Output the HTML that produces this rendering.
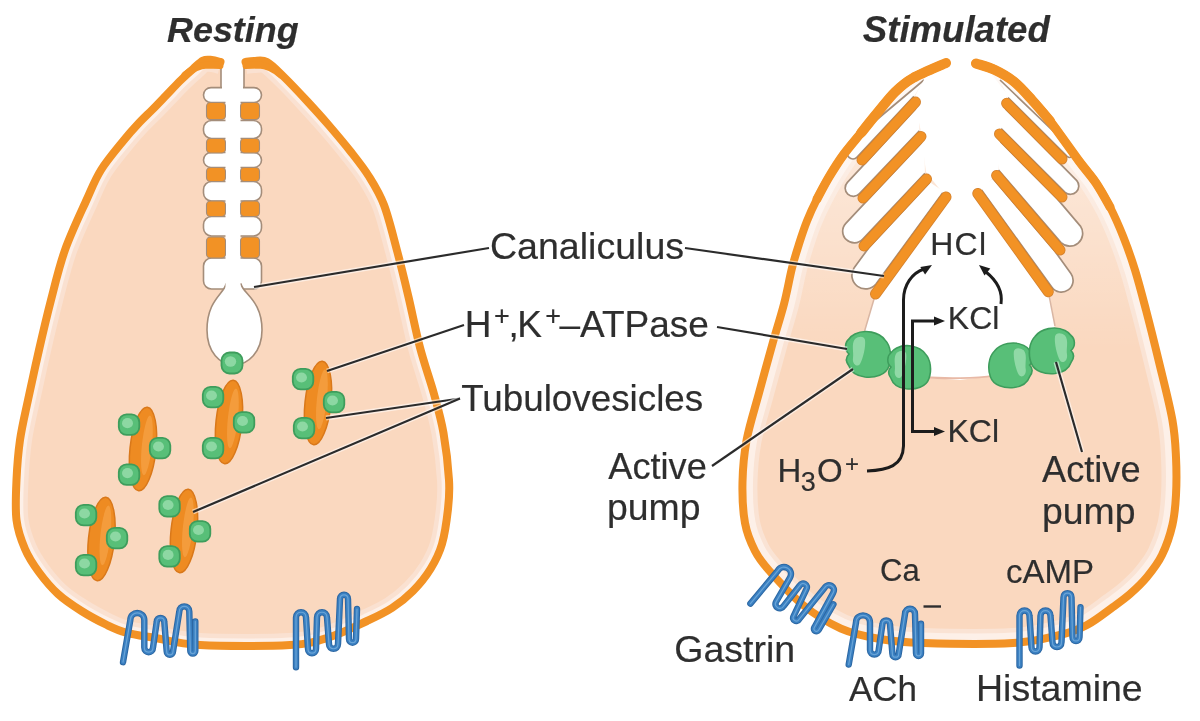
<!DOCTYPE html>
<html><head><meta charset="utf-8"><style>
html,body{margin:0;padding:0;background:#fff;width:1200px;height:721px;overflow:hidden}
svg{display:block;filter:blur(0.7px)}
text{font-family:"Liberation Sans",sans-serif;fill:#2e2e2e;stroke:#333;stroke-width:0.2px}
</style></head><body>
<svg width="1200" height="721" viewBox="0 0 1200 721">
<defs><clipPath id="lc"><path d="M220.5 62.0 C219.1 61.7 214.9 60.2 212.0 60.0 C209.1 59.8 206.2 59.0 203.0 60.5 C199.8 62.0 196.7 65.8 193.0 69.0 C189.3 72.2 185.4 75.7 181.0 80.0 C176.6 84.3 171.3 90.0 166.5 95.0 C161.7 100.0 156.8 105.2 152.0 110.0 C147.2 114.8 142.7 119.0 138.0 124.0 C133.3 129.0 130.2 132.3 124.0 140.0 C117.8 147.7 107.2 160.0 101.0 170.0 C94.8 180.0 92.5 186.7 86.5 200.0 C80.5 213.3 70.9 233.3 65.0 250.0 C59.1 266.7 55.3 283.3 51.0 300.0 C46.7 316.7 42.8 333.3 39.0 350.0 C35.2 366.7 31.2 385.0 28.0 400.0 C24.8 415.0 21.9 426.7 20.0 440.0 C18.1 453.3 17.1 466.7 16.5 480.0 C15.9 493.3 15.1 508.5 16.5 520.0 C17.9 531.5 21.3 540.3 25.0 549.0 C28.7 557.7 33.3 564.5 38.8 572.0 C44.3 579.5 50.9 587.5 58.0 594.0 C65.1 600.5 73.3 605.8 81.5 611.0 C89.7 616.2 99.6 621.4 107.0 625.0 C114.4 628.6 118.0 630.4 126.0 632.6 C134.0 634.8 142.7 635.9 155.0 638.0 C167.3 640.1 177.5 643.8 200.0 645.0 C222.5 646.2 268.3 646.3 290.0 645.0 C311.7 643.7 317.2 641.0 330.0 637.0 C342.8 633.0 356.7 625.8 367.0 621.0 C377.3 616.2 384.3 613.0 392.0 608.0 C399.7 603.0 406.6 597.5 413.0 591.0 C419.4 584.5 425.7 576.8 430.5 569.0 C435.3 561.2 439.1 554.0 442.0 544.0 C444.9 534.0 446.8 519.7 448.0 509.0 C449.2 498.3 449.8 492.7 449.0 480.0 C448.2 467.3 446.0 447.3 443.5 433.0 C441.0 418.7 437.9 408.2 434.0 394.0 C430.1 379.8 424.2 363.8 420.0 347.6 C415.8 331.4 412.3 313.2 408.5 297.0 C404.7 280.8 401.1 265.8 397.0 250.5 C392.9 235.2 388.7 217.3 384.0 205.0 C379.3 192.7 374.5 185.3 369.0 176.5 C363.5 167.7 357.7 160.5 351.0 152.0 C344.3 143.5 336.3 134.0 329.0 125.5 C321.7 117.0 314.5 109.1 307.0 101.0 C299.5 92.9 290.7 83.5 284.0 77.0 C277.3 70.5 272.0 64.7 267.0 62.0 C262.0 59.3 257.6 61.0 254.0 61.0 C250.4 61.0 246.9 61.8 245.5 62.0Z"/></clipPath>
<clipPath id="rc"><path d="M946.0 63.0 C940.5 65.5 921.5 73.2 913.0 78.0 C904.5 82.8 900.8 86.3 895.0 92.0 C889.2 97.7 883.7 105.2 878.0 112.0 C872.3 118.8 866.7 126.0 861.0 133.0 C855.3 140.0 849.3 146.7 844.0 154.0 C838.7 161.3 833.5 169.5 829.0 177.0 C824.5 184.5 820.7 191.7 817.0 199.0 C813.3 206.3 810.0 213.5 807.0 221.0 C804.0 228.5 801.5 236.2 799.0 244.0 C796.5 251.8 794.5 258.0 792.0 268.0 C789.5 278.0 787.2 291.7 784.0 304.0 C780.8 316.3 777.2 327.2 773.0 342.0 C768.8 356.8 763.4 376.7 759.0 393.0 C754.6 409.3 749.4 425.2 746.6 440.0 C743.9 454.8 742.8 468.2 742.5 482.0 C742.2 495.8 742.9 511.5 745.0 523.0 C747.1 534.5 751.0 543.1 755.0 551.0 C759.0 558.9 761.0 561.4 769.0 570.4 C777.0 579.4 791.0 595.3 803.0 605.0 C815.0 614.7 828.2 622.9 841.0 628.6 C853.8 634.3 866.3 636.6 880.0 639.0 C893.7 641.4 900.8 642.3 923.0 643.0 C945.2 643.7 990.2 644.3 1013.0 643.0 C1035.8 641.7 1047.7 638.0 1060.0 635.0 C1072.3 632.0 1078.2 629.7 1087.0 625.0 C1095.8 620.3 1105.8 612.2 1113.0 607.0 C1120.2 601.8 1124.3 599.0 1130.0 594.0 C1135.7 589.0 1141.7 583.5 1147.0 577.0 C1152.3 570.5 1157.8 563.7 1162.0 555.0 C1166.2 546.3 1170.1 535.0 1172.4 525.0 C1174.7 515.0 1175.4 506.3 1176.0 495.0 C1176.6 483.7 1176.6 469.9 1176.0 457.4 C1175.4 444.9 1175.2 435.9 1172.4 420.0 C1169.6 404.1 1163.4 380.3 1159.0 362.0 C1154.6 343.7 1150.0 325.3 1146.0 310.0 C1142.0 294.7 1138.8 282.3 1135.0 270.0 C1131.2 257.7 1127.2 246.5 1123.0 236.0 C1118.8 225.5 1114.5 215.8 1110.0 207.0 C1105.5 198.2 1101.2 190.7 1096.0 183.0 C1090.8 175.3 1086.7 171.3 1079.0 161.0 C1071.3 150.7 1057.8 131.2 1050.0 121.0 C1042.2 110.8 1038.0 106.6 1032.0 100.0 C1026.0 93.4 1020.2 86.6 1014.0 81.6 C1007.8 76.6 1001.3 73.0 995.0 70.0 C988.7 67.0 979.2 64.6 976.0 63.5Z"/></clipPath></defs>
<path d="M220.5 62.0 C219.1 61.7 214.9 60.2 212.0 60.0 C209.1 59.8 206.2 59.0 203.0 60.5 C199.8 62.0 196.7 65.8 193.0 69.0 C189.3 72.2 185.4 75.7 181.0 80.0 C176.6 84.3 171.3 90.0 166.5 95.0 C161.7 100.0 156.8 105.2 152.0 110.0 C147.2 114.8 142.7 119.0 138.0 124.0 C133.3 129.0 130.2 132.3 124.0 140.0 C117.8 147.7 107.2 160.0 101.0 170.0 C94.8 180.0 92.5 186.7 86.5 200.0 C80.5 213.3 70.9 233.3 65.0 250.0 C59.1 266.7 55.3 283.3 51.0 300.0 C46.7 316.7 42.8 333.3 39.0 350.0 C35.2 366.7 31.2 385.0 28.0 400.0 C24.8 415.0 21.9 426.7 20.0 440.0 C18.1 453.3 17.1 466.7 16.5 480.0 C15.9 493.3 15.1 508.5 16.5 520.0 C17.9 531.5 21.3 540.3 25.0 549.0 C28.7 557.7 33.3 564.5 38.8 572.0 C44.3 579.5 50.9 587.5 58.0 594.0 C65.1 600.5 73.3 605.8 81.5 611.0 C89.7 616.2 99.6 621.4 107.0 625.0 C114.4 628.6 118.0 630.4 126.0 632.6 C134.0 634.8 142.7 635.9 155.0 638.0 C167.3 640.1 177.5 643.8 200.0 645.0 C222.5 646.2 268.3 646.3 290.0 645.0 C311.7 643.7 317.2 641.0 330.0 637.0 C342.8 633.0 356.7 625.8 367.0 621.0 C377.3 616.2 384.3 613.0 392.0 608.0 C399.7 603.0 406.6 597.5 413.0 591.0 C419.4 584.5 425.7 576.8 430.5 569.0 C435.3 561.2 439.1 554.0 442.0 544.0 C444.9 534.0 446.8 519.7 448.0 509.0 C449.2 498.3 449.8 492.7 449.0 480.0 C448.2 467.3 446.0 447.3 443.5 433.0 C441.0 418.7 437.9 408.2 434.0 394.0 C430.1 379.8 424.2 363.8 420.0 347.6 C415.8 331.4 412.3 313.2 408.5 297.0 C404.7 280.8 401.1 265.8 397.0 250.5 C392.9 235.2 388.7 217.3 384.0 205.0 C379.3 192.7 374.5 185.3 369.0 176.5 C363.5 167.7 357.7 160.5 351.0 152.0 C344.3 143.5 336.3 134.0 329.0 125.5 C321.7 117.0 314.5 109.1 307.0 101.0 C299.5 92.9 290.7 83.5 284.0 77.0 C277.3 70.5 272.0 64.7 267.0 62.0 C262.0 59.3 257.6 61.0 254.0 61.0 C250.4 61.0 246.9 61.8 245.5 62.0Z" fill="#fad8bf"/>
<path d="M220.5 62.0 C219.1 61.7 214.9 60.2 212.0 60.0 C209.1 59.8 206.2 59.0 203.0 60.5 C199.8 62.0 196.7 65.8 193.0 69.0 C189.3 72.2 185.4 75.7 181.0 80.0 C176.6 84.3 171.3 90.0 166.5 95.0 C161.7 100.0 156.8 105.2 152.0 110.0 C147.2 114.8 142.7 119.0 138.0 124.0 C133.3 129.0 130.2 132.3 124.0 140.0 C117.8 147.7 107.2 160.0 101.0 170.0 C94.8 180.0 92.5 186.7 86.5 200.0 C80.5 213.3 70.9 233.3 65.0 250.0 C59.1 266.7 55.3 283.3 51.0 300.0 C46.7 316.7 42.8 333.3 39.0 350.0 C35.2 366.7 31.2 385.0 28.0 400.0 C24.8 415.0 21.9 426.7 20.0 440.0 C18.1 453.3 17.1 466.7 16.5 480.0 C15.9 493.3 15.1 508.5 16.5 520.0 C17.9 531.5 21.3 540.3 25.0 549.0 C28.7 557.7 33.3 564.5 38.8 572.0 C44.3 579.5 50.9 587.5 58.0 594.0 C65.1 600.5 73.3 605.8 81.5 611.0 C89.7 616.2 99.6 621.4 107.0 625.0 C114.4 628.6 118.0 630.4 126.0 632.6 C134.0 634.8 142.7 635.9 155.0 638.0 C167.3 640.1 177.5 643.8 200.0 645.0 C222.5 646.2 268.3 646.3 290.0 645.0 C311.7 643.7 317.2 641.0 330.0 637.0 C342.8 633.0 356.7 625.8 367.0 621.0 C377.3 616.2 384.3 613.0 392.0 608.0 C399.7 603.0 406.6 597.5 413.0 591.0 C419.4 584.5 425.7 576.8 430.5 569.0 C435.3 561.2 439.1 554.0 442.0 544.0 C444.9 534.0 446.8 519.7 448.0 509.0 C449.2 498.3 449.8 492.7 449.0 480.0 C448.2 467.3 446.0 447.3 443.5 433.0 C441.0 418.7 437.9 408.2 434.0 394.0 C430.1 379.8 424.2 363.8 420.0 347.6 C415.8 331.4 412.3 313.2 408.5 297.0 C404.7 280.8 401.1 265.8 397.0 250.5 C392.9 235.2 388.7 217.3 384.0 205.0 C379.3 192.7 374.5 185.3 369.0 176.5 C363.5 167.7 357.7 160.5 351.0 152.0 C344.3 143.5 336.3 134.0 329.0 125.5 C321.7 117.0 314.5 109.1 307.0 101.0 C299.5 92.9 290.7 83.5 284.0 77.0 C277.3 70.5 272.0 64.7 267.0 62.0 C262.0 59.3 257.6 61.0 254.0 61.0 C250.4 61.0 246.9 61.8 245.5 62.0" fill="none" stroke="#fae1d1" stroke-width="24" clip-path="url(#lc)"/>
<path d="M220.5 62.0 C219.1 61.7 214.9 60.2 212.0 60.0 C209.1 59.8 206.2 59.0 203.0 60.5 C199.8 62.0 196.7 65.8 193.0 69.0 C189.3 72.2 185.4 75.7 181.0 80.0 C176.6 84.3 171.3 90.0 166.5 95.0 C161.7 100.0 156.8 105.2 152.0 110.0 C147.2 114.8 142.7 119.0 138.0 124.0 C133.3 129.0 130.2 132.3 124.0 140.0 C117.8 147.7 107.2 160.0 101.0 170.0 C94.8 180.0 92.5 186.7 86.5 200.0 C80.5 213.3 70.9 233.3 65.0 250.0 C59.1 266.7 55.3 283.3 51.0 300.0 C46.7 316.7 42.8 333.3 39.0 350.0 C35.2 366.7 31.2 385.0 28.0 400.0 C24.8 415.0 21.9 426.7 20.0 440.0 C18.1 453.3 17.1 466.7 16.5 480.0 C15.9 493.3 15.1 508.5 16.5 520.0 C17.9 531.5 21.3 540.3 25.0 549.0 C28.7 557.7 33.3 564.5 38.8 572.0 C44.3 579.5 50.9 587.5 58.0 594.0 C65.1 600.5 73.3 605.8 81.5 611.0 C89.7 616.2 99.6 621.4 107.0 625.0 C114.4 628.6 118.0 630.4 126.0 632.6 C134.0 634.8 142.7 635.9 155.0 638.0 C167.3 640.1 177.5 643.8 200.0 645.0 C222.5 646.2 268.3 646.3 290.0 645.0 C311.7 643.7 317.2 641.0 330.0 637.0 C342.8 633.0 356.7 625.8 367.0 621.0 C377.3 616.2 384.3 613.0 392.0 608.0 C399.7 603.0 406.6 597.5 413.0 591.0 C419.4 584.5 425.7 576.8 430.5 569.0 C435.3 561.2 439.1 554.0 442.0 544.0 C444.9 534.0 446.8 519.7 448.0 509.0 C449.2 498.3 449.8 492.7 449.0 480.0 C448.2 467.3 446.0 447.3 443.5 433.0 C441.0 418.7 437.9 408.2 434.0 394.0 C430.1 379.8 424.2 363.8 420.0 347.6 C415.8 331.4 412.3 313.2 408.5 297.0 C404.7 280.8 401.1 265.8 397.0 250.5 C392.9 235.2 388.7 217.3 384.0 205.0 C379.3 192.7 374.5 185.3 369.0 176.5 C363.5 167.7 357.7 160.5 351.0 152.0 C344.3 143.5 336.3 134.0 329.0 125.5 C321.7 117.0 314.5 109.1 307.0 101.0 C299.5 92.9 290.7 83.5 284.0 77.0 C277.3 70.5 272.0 64.7 267.0 62.0 C262.0 59.3 257.6 61.0 254.0 61.0 C250.4 61.0 246.9 61.8 245.5 62.0" fill="none" stroke="#fdf0e8" stroke-width="15" clip-path="url(#lc)"/>
<rect x="221" y="60" width="23" height="34" fill="#fff" stroke="#a48d7a" stroke-width="1.6"/>
<rect x="203.5" y="87.6" width="58" height="14.9" rx="7.5" fill="#fff" stroke="#a48d7a" stroke-width="1.6"/>
<rect x="203.5" y="120.5" width="58" height="18.0" rx="8.0" fill="#fff" stroke="#a48d7a" stroke-width="1.6"/>
<rect x="203.5" y="152.5" width="58" height="15.0" rx="7.5" fill="#fff" stroke="#a48d7a" stroke-width="1.6"/>
<rect x="203.5" y="181.5" width="58" height="19.5" rx="8.0" fill="#fff" stroke="#a48d7a" stroke-width="1.6"/>
<rect x="203.5" y="216.5" width="58" height="19.5" rx="8.0" fill="#fff" stroke="#a48d7a" stroke-width="1.6"/>
<rect x="203.5" y="258.0" width="58" height="31.0" rx="8.0" fill="#fff" stroke="#a48d7a" stroke-width="1.6"/>
<path d="M226 284 C224 294 207 300 207 330 C207 352 220 365 234 365 C248 365 262 352 262 330 C262 300 243 294 241 284 Z" fill="#fff" stroke="#a48d7a" stroke-width="1.6"/>
<rect x="222" y="50" width="21" height="48" fill="#fff"/>
<rect x="225.5" y="95" width="15" height="215" fill="#fff"/>
<rect x="206.5" y="102.5" width="19" height="17.0" rx="4" fill="#f29225" stroke="#a48d7a" stroke-width="1.1"/>
<rect x="240.5" y="102.5" width="19" height="17.0" rx="4" fill="#f29225" stroke="#a48d7a" stroke-width="1.1"/>
<rect x="206.5" y="138.5" width="19" height="14.5" rx="4" fill="#f29225" stroke="#a48d7a" stroke-width="1.1"/>
<rect x="240.5" y="138.5" width="19" height="14.5" rx="4" fill="#f29225" stroke="#a48d7a" stroke-width="1.1"/>
<rect x="206.5" y="167.5" width="19" height="14.0" rx="4" fill="#f29225" stroke="#a48d7a" stroke-width="1.1"/>
<rect x="240.5" y="167.5" width="19" height="14.0" rx="4" fill="#f29225" stroke="#a48d7a" stroke-width="1.1"/>
<rect x="206.5" y="201.0" width="19" height="15.5" rx="4" fill="#f29225" stroke="#a48d7a" stroke-width="1.1"/>
<rect x="240.5" y="201.0" width="19" height="15.5" rx="4" fill="#f29225" stroke="#a48d7a" stroke-width="1.1"/>
<rect x="206.5" y="237.0" width="19" height="21.0" rx="4" fill="#f29225" stroke="#a48d7a" stroke-width="1.1"/>
<rect x="240.5" y="237.0" width="19" height="21.0" rx="4" fill="#f29225" stroke="#a48d7a" stroke-width="1.1"/>
<rect x="226.2" y="95" width="13.6" height="210" fill="#fff"/>
<path d="M220.5 62.0 C219.1 61.7 214.9 60.2 212.0 60.0 C209.1 59.8 206.2 59.0 203.0 60.5 C199.8 62.0 196.7 65.8 193.0 69.0 C189.3 72.2 185.4 75.7 181.0 80.0 C176.6 84.3 171.3 90.0 166.5 95.0 C161.7 100.0 156.8 105.2 152.0 110.0 C147.2 114.8 142.7 119.0 138.0 124.0 C133.3 129.0 130.2 132.3 124.0 140.0 C117.8 147.7 107.2 160.0 101.0 170.0 C94.8 180.0 92.5 186.7 86.5 200.0 C80.5 213.3 70.9 233.3 65.0 250.0 C59.1 266.7 55.3 283.3 51.0 300.0 C46.7 316.7 42.8 333.3 39.0 350.0 C35.2 366.7 31.2 385.0 28.0 400.0 C24.8 415.0 21.9 426.7 20.0 440.0 C18.1 453.3 17.1 466.7 16.5 480.0 C15.9 493.3 15.1 508.5 16.5 520.0 C17.9 531.5 21.3 540.3 25.0 549.0 C28.7 557.7 33.3 564.5 38.8 572.0 C44.3 579.5 50.9 587.5 58.0 594.0 C65.1 600.5 73.3 605.8 81.5 611.0 C89.7 616.2 99.6 621.4 107.0 625.0 C114.4 628.6 118.0 630.4 126.0 632.6 C134.0 634.8 142.7 635.9 155.0 638.0 C167.3 640.1 177.5 643.8 200.0 645.0 C222.5 646.2 268.3 646.3 290.0 645.0 C311.7 643.7 317.2 641.0 330.0 637.0 C342.8 633.0 356.7 625.8 367.0 621.0 C377.3 616.2 384.3 613.0 392.0 608.0 C399.7 603.0 406.6 597.5 413.0 591.0 C419.4 584.5 425.7 576.8 430.5 569.0 C435.3 561.2 439.1 554.0 442.0 544.0 C444.9 534.0 446.8 519.7 448.0 509.0 C449.2 498.3 449.8 492.7 449.0 480.0 C448.2 467.3 446.0 447.3 443.5 433.0 C441.0 418.7 437.9 408.2 434.0 394.0 C430.1 379.8 424.2 363.8 420.0 347.6 C415.8 331.4 412.3 313.2 408.5 297.0 C404.7 280.8 401.1 265.8 397.0 250.5 C392.9 235.2 388.7 217.3 384.0 205.0 C379.3 192.7 374.5 185.3 369.0 176.5 C363.5 167.7 357.7 160.5 351.0 152.0 C344.3 143.5 336.3 134.0 329.0 125.5 C321.7 117.0 314.5 109.1 307.0 101.0 C299.5 92.9 290.7 83.5 284.0 77.0 C277.3 70.5 272.0 64.7 267.0 62.0 C262.0 59.3 257.6 61.0 254.0 61.0 C250.4 61.0 246.9 61.8 245.5 62.0" fill="none" stroke="#f29225" stroke-width="8" stroke-linecap="round"/>
<path d="M220 65.5 L207 65 Q196 65.5 185 75" fill="none" stroke="#f29225" stroke-width="7" stroke-linecap="round"/>
<path d="M246 65.5 L259 65 Q270 65.5 281 75" fill="none" stroke="#f29225" stroke-width="7" stroke-linecap="round"/>
<g transform="translate(229.0 422.0) rotate(6.0)"><ellipse cx="0" cy="0" rx="13" ry="42" fill="#ee8b22" stroke="#d9781a" stroke-width="1.5"/><ellipse cx="3.5" cy="-4" rx="5" ry="30" fill="#f5a145" opacity="0.75"/></g>
<rect x="202.8" y="386.8" width="20.5" height="20.5" rx="7.8" fill="#58bf78" stroke="#3e9d5c" stroke-width="1.8"/><ellipse cx="211.5" cy="395.5" rx="5.5" ry="5.1" fill="#9fe0b2" opacity="0.75"/>
<rect x="233.8" y="412.2" width="20.5" height="20.5" rx="7.8" fill="#58bf78" stroke="#3e9d5c" stroke-width="1.8"/><ellipse cx="242.5" cy="421.0" rx="5.5" ry="5.1" fill="#9fe0b2" opacity="0.75"/>
<rect x="202.8" y="437.8" width="20.5" height="20.5" rx="7.8" fill="#58bf78" stroke="#3e9d5c" stroke-width="1.8"/><ellipse cx="211.5" cy="446.5" rx="5.5" ry="5.1" fill="#9fe0b2" opacity="0.75"/>
<g transform="translate(318.0 403.0) rotate(6.0)"><ellipse cx="0" cy="0" rx="13" ry="42" fill="#ee8b22" stroke="#d9781a" stroke-width="1.5"/><ellipse cx="3.5" cy="-4" rx="5" ry="30" fill="#f5a145" opacity="0.75"/></g>
<rect x="292.8" y="368.8" width="20.5" height="20.5" rx="7.8" fill="#58bf78" stroke="#3e9d5c" stroke-width="1.8"/><ellipse cx="301.5" cy="377.5" rx="5.5" ry="5.1" fill="#9fe0b2" opacity="0.75"/>
<rect x="323.8" y="391.8" width="20.5" height="20.5" rx="7.8" fill="#58bf78" stroke="#3e9d5c" stroke-width="1.8"/><ellipse cx="332.5" cy="400.5" rx="5.5" ry="5.1" fill="#9fe0b2" opacity="0.75"/>
<rect x="293.8" y="417.8" width="20.5" height="20.5" rx="7.8" fill="#58bf78" stroke="#3e9d5c" stroke-width="1.8"/><ellipse cx="302.5" cy="426.5" rx="5.5" ry="5.1" fill="#9fe0b2" opacity="0.75"/>
<g transform="translate(143.0 449.0) rotate(6.0)"><ellipse cx="0" cy="0" rx="13" ry="42" fill="#ee8b22" stroke="#d9781a" stroke-width="1.5"/><ellipse cx="3.5" cy="-4" rx="5" ry="30" fill="#f5a145" opacity="0.75"/></g>
<rect x="118.8" y="414.4" width="20.5" height="20.5" rx="7.8" fill="#58bf78" stroke="#3e9d5c" stroke-width="1.8"/><ellipse cx="127.5" cy="423.2" rx="5.5" ry="5.1" fill="#9fe0b2" opacity="0.75"/>
<rect x="149.8" y="437.8" width="20.5" height="20.5" rx="7.8" fill="#58bf78" stroke="#3e9d5c" stroke-width="1.8"/><ellipse cx="158.5" cy="446.5" rx="5.5" ry="5.1" fill="#9fe0b2" opacity="0.75"/>
<rect x="118.8" y="464.4" width="20.5" height="20.5" rx="7.8" fill="#58bf78" stroke="#3e9d5c" stroke-width="1.8"/><ellipse cx="127.5" cy="473.1" rx="5.5" ry="5.1" fill="#9fe0b2" opacity="0.75"/>
<g transform="translate(101.5 539.0) rotate(6.0)"><ellipse cx="0" cy="0" rx="13" ry="42" fill="#ee8b22" stroke="#d9781a" stroke-width="1.5"/><ellipse cx="3.5" cy="-4" rx="5" ry="30" fill="#f5a145" opacity="0.75"/></g>
<rect x="75.8" y="504.8" width="20.5" height="20.5" rx="7.8" fill="#58bf78" stroke="#3e9d5c" stroke-width="1.8"/><ellipse cx="84.5" cy="513.5" rx="5.5" ry="5.1" fill="#9fe0b2" opacity="0.75"/>
<rect x="106.8" y="527.8" width="20.5" height="20.5" rx="7.8" fill="#58bf78" stroke="#3e9d5c" stroke-width="1.8"/><ellipse cx="115.5" cy="536.5" rx="5.5" ry="5.1" fill="#9fe0b2" opacity="0.75"/>
<rect x="75.8" y="554.8" width="20.5" height="20.5" rx="7.8" fill="#58bf78" stroke="#3e9d5c" stroke-width="1.8"/><ellipse cx="84.5" cy="563.5" rx="5.5" ry="5.1" fill="#9fe0b2" opacity="0.75"/>
<g transform="translate(184.0 531.0) rotate(6.0)"><ellipse cx="0" cy="0" rx="13" ry="42" fill="#ee8b22" stroke="#d9781a" stroke-width="1.5"/><ellipse cx="3.5" cy="-4" rx="5" ry="30" fill="#f5a145" opacity="0.75"/></g>
<rect x="159.3" y="496.2" width="20.5" height="20.5" rx="7.8" fill="#58bf78" stroke="#3e9d5c" stroke-width="1.8"/><ellipse cx="168.1" cy="505.0" rx="5.5" ry="5.1" fill="#9fe0b2" opacity="0.75"/>
<rect x="189.8" y="521.2" width="20.5" height="20.5" rx="7.8" fill="#58bf78" stroke="#3e9d5c" stroke-width="1.8"/><ellipse cx="198.5" cy="530.0" rx="5.5" ry="5.1" fill="#9fe0b2" opacity="0.75"/>
<rect x="159.3" y="546.1" width="20.5" height="20.5" rx="7.8" fill="#58bf78" stroke="#3e9d5c" stroke-width="1.8"/><ellipse cx="168.1" cy="554.9" rx="5.5" ry="5.1" fill="#9fe0b2" opacity="0.75"/>
<rect x="221.5" y="352.5" width="21.0" height="21.0" rx="8.0" fill="#58bf78" stroke="#3e9d5c" stroke-width="1.8"/><ellipse cx="230.5" cy="361.5" rx="5.7" ry="5.2" fill="#9fe0b2" opacity="0.75"/>
<path d="M946.0 63.0 C940.5 65.5 921.5 73.2 913.0 78.0 C904.5 82.8 900.8 86.3 895.0 92.0 C889.2 97.7 883.7 105.2 878.0 112.0 C872.3 118.8 866.7 126.0 861.0 133.0 C855.3 140.0 849.3 146.7 844.0 154.0 C838.7 161.3 833.5 169.5 829.0 177.0 C824.5 184.5 820.7 191.7 817.0 199.0 C813.3 206.3 810.0 213.5 807.0 221.0 C804.0 228.5 801.5 236.2 799.0 244.0 C796.5 251.8 794.5 258.0 792.0 268.0 C789.5 278.0 787.2 291.7 784.0 304.0 C780.8 316.3 777.2 327.2 773.0 342.0 C768.8 356.8 763.4 376.7 759.0 393.0 C754.6 409.3 749.4 425.2 746.6 440.0 C743.9 454.8 742.8 468.2 742.5 482.0 C742.2 495.8 742.9 511.5 745.0 523.0 C747.1 534.5 751.0 543.1 755.0 551.0 C759.0 558.9 761.0 561.4 769.0 570.4 C777.0 579.4 791.0 595.3 803.0 605.0 C815.0 614.7 828.2 622.9 841.0 628.6 C853.8 634.3 866.3 636.6 880.0 639.0 C893.7 641.4 900.8 642.3 923.0 643.0 C945.2 643.7 990.2 644.3 1013.0 643.0 C1035.8 641.7 1047.7 638.0 1060.0 635.0 C1072.3 632.0 1078.2 629.7 1087.0 625.0 C1095.8 620.3 1105.8 612.2 1113.0 607.0 C1120.2 601.8 1124.3 599.0 1130.0 594.0 C1135.7 589.0 1141.7 583.5 1147.0 577.0 C1152.3 570.5 1157.8 563.7 1162.0 555.0 C1166.2 546.3 1170.1 535.0 1172.4 525.0 C1174.7 515.0 1175.4 506.3 1176.0 495.0 C1176.6 483.7 1176.6 469.9 1176.0 457.4 C1175.4 444.9 1175.2 435.9 1172.4 420.0 C1169.6 404.1 1163.4 380.3 1159.0 362.0 C1154.6 343.7 1150.0 325.3 1146.0 310.0 C1142.0 294.7 1138.8 282.3 1135.0 270.0 C1131.2 257.7 1127.2 246.5 1123.0 236.0 C1118.8 225.5 1114.5 215.8 1110.0 207.0 C1105.5 198.2 1101.2 190.7 1096.0 183.0 C1090.8 175.3 1086.7 171.3 1079.0 161.0 C1071.3 150.7 1057.8 131.2 1050.0 121.0 C1042.2 110.8 1038.0 106.6 1032.0 100.0 C1026.0 93.4 1020.2 86.6 1014.0 81.6 C1007.8 76.6 1001.3 73.0 995.0 70.0 C988.7 67.0 979.2 64.6 976.0 63.5Z" fill="#fad8bf"/>
<path d="M946.0 63.0 C940.5 65.5 921.5 73.2 913.0 78.0 C904.5 82.8 900.8 86.3 895.0 92.0 C889.2 97.7 883.7 105.2 878.0 112.0 C872.3 118.8 866.7 126.0 861.0 133.0 C855.3 140.0 849.3 146.7 844.0 154.0 C838.7 161.3 833.5 169.5 829.0 177.0 C824.5 184.5 820.7 191.7 817.0 199.0 C813.3 206.3 810.0 213.5 807.0 221.0 C804.0 228.5 801.5 236.2 799.0 244.0 C796.5 251.8 794.5 258.0 792.0 268.0 C789.5 278.0 787.2 291.7 784.0 304.0 C780.8 316.3 777.2 327.2 773.0 342.0 C768.8 356.8 763.4 376.7 759.0 393.0 C754.6 409.3 749.4 425.2 746.6 440.0 C743.9 454.8 742.8 468.2 742.5 482.0 C742.2 495.8 742.9 511.5 745.0 523.0 C747.1 534.5 751.0 543.1 755.0 551.0 C759.0 558.9 761.0 561.4 769.0 570.4 C777.0 579.4 791.0 595.3 803.0 605.0 C815.0 614.7 828.2 622.9 841.0 628.6 C853.8 634.3 866.3 636.6 880.0 639.0 C893.7 641.4 900.8 642.3 923.0 643.0 C945.2 643.7 990.2 644.3 1013.0 643.0 C1035.8 641.7 1047.7 638.0 1060.0 635.0 C1072.3 632.0 1078.2 629.7 1087.0 625.0 C1095.8 620.3 1105.8 612.2 1113.0 607.0 C1120.2 601.8 1124.3 599.0 1130.0 594.0 C1135.7 589.0 1141.7 583.5 1147.0 577.0 C1152.3 570.5 1157.8 563.7 1162.0 555.0 C1166.2 546.3 1170.1 535.0 1172.4 525.0 C1174.7 515.0 1175.4 506.3 1176.0 495.0 C1176.6 483.7 1176.6 469.9 1176.0 457.4 C1175.4 444.9 1175.2 435.9 1172.4 420.0 C1169.6 404.1 1163.4 380.3 1159.0 362.0 C1154.6 343.7 1150.0 325.3 1146.0 310.0 C1142.0 294.7 1138.8 282.3 1135.0 270.0 C1131.2 257.7 1127.2 246.5 1123.0 236.0 C1118.8 225.5 1114.5 215.8 1110.0 207.0 C1105.5 198.2 1101.2 190.7 1096.0 183.0 C1090.8 175.3 1086.7 171.3 1079.0 161.0 C1071.3 150.7 1057.8 131.2 1050.0 121.0 C1042.2 110.8 1038.0 106.6 1032.0 100.0 C1026.0 93.4 1020.2 86.6 1014.0 81.6 C1007.8 76.6 1001.3 73.0 995.0 70.0 C988.7 67.0 979.2 64.6 976.0 63.5" fill="none" stroke="#fae3d4" stroke-width="30" clip-path="url(#rc)"/>
<path d="M946.0 63.0 C940.5 65.5 921.5 73.2 913.0 78.0 C904.5 82.8 900.8 86.3 895.0 92.0 C889.2 97.7 883.7 105.2 878.0 112.0 C872.3 118.8 866.7 126.0 861.0 133.0 C855.3 140.0 849.3 146.7 844.0 154.0 C838.7 161.3 833.5 169.5 829.0 177.0 C824.5 184.5 820.7 191.7 817.0 199.0 C813.3 206.3 810.0 213.5 807.0 221.0 C804.0 228.5 801.5 236.2 799.0 244.0 C796.5 251.8 794.5 258.0 792.0 268.0 C789.5 278.0 787.2 291.7 784.0 304.0 C780.8 316.3 777.2 327.2 773.0 342.0 C768.8 356.8 763.4 376.7 759.0 393.0 C754.6 409.3 749.4 425.2 746.6 440.0 C743.9 454.8 742.8 468.2 742.5 482.0 C742.2 495.8 742.9 511.5 745.0 523.0 C747.1 534.5 751.0 543.1 755.0 551.0 C759.0 558.9 761.0 561.4 769.0 570.4 C777.0 579.4 791.0 595.3 803.0 605.0 C815.0 614.7 828.2 622.9 841.0 628.6 C853.8 634.3 866.3 636.6 880.0 639.0 C893.7 641.4 900.8 642.3 923.0 643.0 C945.2 643.7 990.2 644.3 1013.0 643.0 C1035.8 641.7 1047.7 638.0 1060.0 635.0 C1072.3 632.0 1078.2 629.7 1087.0 625.0 C1095.8 620.3 1105.8 612.2 1113.0 607.0 C1120.2 601.8 1124.3 599.0 1130.0 594.0 C1135.7 589.0 1141.7 583.5 1147.0 577.0 C1152.3 570.5 1157.8 563.7 1162.0 555.0 C1166.2 546.3 1170.1 535.0 1172.4 525.0 C1174.7 515.0 1175.4 506.3 1176.0 495.0 C1176.6 483.7 1176.6 469.9 1176.0 457.4 C1175.4 444.9 1175.2 435.9 1172.4 420.0 C1169.6 404.1 1163.4 380.3 1159.0 362.0 C1154.6 343.7 1150.0 325.3 1146.0 310.0 C1142.0 294.7 1138.8 282.3 1135.0 270.0 C1131.2 257.7 1127.2 246.5 1123.0 236.0 C1118.8 225.5 1114.5 215.8 1110.0 207.0 C1105.5 198.2 1101.2 190.7 1096.0 183.0 C1090.8 175.3 1086.7 171.3 1079.0 161.0 C1071.3 150.7 1057.8 131.2 1050.0 121.0 C1042.2 110.8 1038.0 106.6 1032.0 100.0 C1026.0 93.4 1020.2 86.6 1014.0 81.6 C1007.8 76.6 1001.3 73.0 995.0 70.0 C988.7 67.0 979.2 64.6 976.0 63.5" fill="none" stroke="#fdf0e8" stroke-width="21" clip-path="url(#rc)"/>
<defs><linearGradient id="armg" x1="0" y1="0" x2="0" y2="1"><stop offset="0" stop-color="#fff" stop-opacity="0.6"/><stop offset="1" stop-color="#fff" stop-opacity="0"/></linearGradient></defs>
<rect x="740" y="60" width="450" height="290" fill="url(#armg)" clip-path="url(#rc)"/>
<path d="M913.9 96.4 L857.1 157.2 A5.7 5.7 0 0 1 848.7 149.4 L874.0 122.0 L924.0 80.0" fill="#fff" stroke="#a48d7a" stroke-width="1.7" stroke-linejoin="round"/>
<path d="M919.4 130.9 L859.5 193.7 A8.3 8.3 0 0 1 847.4 182.3 L866.8 161.7 L919.0 105.2" fill="#fff" stroke="#a48d7a" stroke-width="1.7" stroke-linejoin="round"/>
<path d="M924.9 173.4 L862.8 239.2 A11.6 11.6 0 0 1 845.8 223.3 L867.8 199.8 L924.4 139.7" fill="#fff" stroke="#a48d7a" stroke-width="1.7" stroke-linejoin="round"/>
<path d="M943.7 191.6 L876.0 284.0 A13.6 13.6 0 0 1 854.0 268.1 L868.8 247.7 L929.9 182.2" fill="#fff" stroke="#a48d7a" stroke-width="1.7" stroke-linejoin="round"/>
<path d="M1008.0 97.6 L1067.1 156.3 A4.0 4.0 0 0 0 1072.8 150.7 L1052.0 130.0 L1000.0 80.0" fill="#fff" stroke="#a48d7a" stroke-width="1.7" stroke-linejoin="round"/>
<path d="M1000.9 128.3 L1065.1 192.3 A8.3 8.3 0 0 0 1076.8 180.6 L1057.3 160.9 L1003.3 106.6" fill="#fff" stroke="#a48d7a" stroke-width="1.7" stroke-linejoin="round"/>
<path d="M998.5 170.0 L1061.0 242.6 A12.8 12.8 0 0 0 1080.4 226.1 L1057.3 198.9 L996.2 137.3" fill="#fff" stroke="#a48d7a" stroke-width="1.7" stroke-linejoin="round"/>
<path d="M980.1 188.1 L1051.9 287.3 A11.7 11.7 0 0 0 1070.9 273.6 L1055.1 251.5 L993.0 178.5" fill="#fff" stroke="#a48d7a" stroke-width="1.7" stroke-linejoin="round"/>
<path d="M946.0 56.0 L977.0 56.0 L1008.0 95.0 L1001.0 130.0 L998.0 172.0 L977.0 195.0 L1049.0 292.0 L1055.0 326.0 L1040.0 350.0 L1015.0 368.0 L990.0 376.0 L960.0 380.0 L930.0 378.0 L905.0 372.0 L880.0 355.0 L863.0 335.0 L875.5 294.0 L946.0 197.0 L926.0 172.0 L921.0 132.0 L914.0 98.0 L925.0 78.0Z" fill="#fff"/>
<path d="M905 373 C925 380 995 381 1016 369" fill="none" stroke="#e8b9a6" stroke-width="2"/>
<path d="M875.5 294 L864 333" stroke="#d9b6a3" stroke-width="1.5"/>
<path d="M1048.3 291.7 L1055 326" stroke="#d9b6a3" stroke-width="1.5"/>
<path d="M862.0 160.0 L915.5 102.0" stroke="#d4822f" stroke-width="11" stroke-linecap="round"/>
<path d="M862.0 160.0 L915.5 102.0" stroke="#f29225" stroke-width="9.4" stroke-linecap="round"/>
<path d="M1062.0 159.0 L1006.6 103.3" stroke="#d4822f" stroke-width="11" stroke-linecap="round"/>
<path d="M1062.0 159.0 L1006.6 103.3" stroke="#f29225" stroke-width="9.4" stroke-linecap="round"/>
<path d="M863.0 198.0 L921.0 136.5" stroke="#d4822f" stroke-width="11" stroke-linecap="round"/>
<path d="M863.0 198.0 L921.0 136.5" stroke="#f29225" stroke-width="9.4" stroke-linecap="round"/>
<path d="M1062.0 197.0 L999.5 134.0" stroke="#d4822f" stroke-width="11" stroke-linecap="round"/>
<path d="M1062.0 197.0 L999.5 134.0" stroke="#f29225" stroke-width="9.4" stroke-linecap="round"/>
<path d="M864.0 246.0 L926.5 179.0" stroke="#d4822f" stroke-width="11" stroke-linecap="round"/>
<path d="M864.0 246.0 L926.5 179.0" stroke="#f29225" stroke-width="9.4" stroke-linecap="round"/>
<path d="M1060.0 250.0 L996.6 175.5" stroke="#d4822f" stroke-width="11" stroke-linecap="round"/>
<path d="M1060.0 250.0 L996.6 175.5" stroke="#f29225" stroke-width="9.4" stroke-linecap="round"/>
<path d="M875.5 294.0 L946.0 197.0" stroke="#d4822f" stroke-width="11" stroke-linecap="round"/>
<path d="M875.5 294.0 L946.0 197.0" stroke="#f29225" stroke-width="9.4" stroke-linecap="round"/>
<path d="M1048.3 291.7 L977.8 193.5" stroke="#d4822f" stroke-width="11" stroke-linecap="round"/>
<path d="M1048.3 291.7 L977.8 193.5" stroke="#f29225" stroke-width="9.4" stroke-linecap="round"/>
<g transform="translate(869.0 354.0) scale(1.00 1.00)"><path d="M-14 -20 C-4 -25 10 -22 16 -14 C22 -8 23 4 20 12 C17 21 6 24 -4 23 C-12 22 -18 18 -20 12 C-23 8 -24 4 -20 0 C-25 -4 -24 -12 -20 -15 C-18 -18 -16 -19 -14 -20Z" fill="#58bf78" stroke="#3e9d5c" stroke-width="1.6"/><path d="M-14 -15 C-10 -18 -5 -18 -4 -14 C-3 -8 -6 5 -9 10 C-12 14 -17 10 -16 4 C-15 -2 -18 -10 -14 -15Z" fill="#9fe0b2" opacity="0.8"/></g>
<g transform="translate(910.0 367.0) scale(0.95 0.95)"><path d="M-14 -20 C-4 -25 10 -22 16 -14 C22 -8 23 4 20 12 C17 21 6 24 -4 23 C-12 22 -18 18 -20 12 C-23 8 -24 4 -20 0 C-25 -4 -24 -12 -20 -15 C-18 -18 -16 -19 -14 -20Z" fill="#58bf78" stroke="#3e9d5c" stroke-width="1.6"/><path d="M-14 -15 C-10 -18 -5 -18 -4 -14 C-3 -8 -6 5 -9 10 C-12 14 -17 10 -16 4 C-15 -2 -18 -10 -14 -15Z" fill="#9fe0b2" opacity="0.8"/></g>
<g transform="translate(1010.0 365.0) scale(-0.98 0.98)"><path d="M-14 -20 C-4 -25 10 -22 16 -14 C22 -8 23 4 20 12 C17 21 6 24 -4 23 C-12 22 -18 18 -20 12 C-23 8 -24 4 -20 0 C-25 -4 -24 -12 -20 -15 C-18 -18 -16 -19 -14 -20Z" fill="#58bf78" stroke="#3e9d5c" stroke-width="1.6"/><path d="M-14 -15 C-10 -18 -5 -18 -4 -14 C-3 -8 -6 5 -9 10 C-12 14 -17 10 -16 4 C-15 -2 -18 -10 -14 -15Z" fill="#9fe0b2" opacity="0.8"/></g>
<g transform="translate(1051.0 350.5) scale(-1.00 1.00)"><path d="M-14 -20 C-4 -25 10 -22 16 -14 C22 -8 23 4 20 12 C17 21 6 24 -4 23 C-12 22 -18 18 -20 12 C-23 8 -24 4 -20 0 C-25 -4 -24 -12 -20 -15 C-18 -18 -16 -19 -14 -20Z" fill="#58bf78" stroke="#3e9d5c" stroke-width="1.6"/><path d="M-14 -15 C-10 -18 -5 -18 -4 -14 C-3 -8 -6 5 -9 10 C-12 14 -17 10 -16 4 C-15 -2 -18 -10 -14 -15Z" fill="#9fe0b2" opacity="0.8"/></g>
<path d="M946.0 63.0 C940.5 65.5 921.5 73.2 913.0 78.0 C904.5 82.8 900.8 86.3 895.0 92.0 C889.2 97.7 883.7 105.2 878.0 112.0 C872.3 118.8 866.7 126.0 861.0 133.0 C855.3 140.0 849.3 146.7 844.0 154.0 C838.7 161.3 833.5 169.5 829.0 177.0 C824.5 184.5 820.7 191.7 817.0 199.0 C813.3 206.3 810.0 213.5 807.0 221.0 C804.0 228.5 801.5 236.2 799.0 244.0 C796.5 251.8 794.5 258.0 792.0 268.0 C789.5 278.0 787.2 291.7 784.0 304.0 C780.8 316.3 777.2 327.2 773.0 342.0 C768.8 356.8 763.4 376.7 759.0 393.0 C754.6 409.3 749.4 425.2 746.6 440.0 C743.9 454.8 742.8 468.2 742.5 482.0 C742.2 495.8 742.9 511.5 745.0 523.0 C747.1 534.5 751.0 543.1 755.0 551.0 C759.0 558.9 761.0 561.4 769.0 570.4 C777.0 579.4 791.0 595.3 803.0 605.0 C815.0 614.7 828.2 622.9 841.0 628.6 C853.8 634.3 866.3 636.6 880.0 639.0 C893.7 641.4 900.8 642.3 923.0 643.0 C945.2 643.7 990.2 644.3 1013.0 643.0 C1035.8 641.7 1047.7 638.0 1060.0 635.0 C1072.3 632.0 1078.2 629.7 1087.0 625.0 C1095.8 620.3 1105.8 612.2 1113.0 607.0 C1120.2 601.8 1124.3 599.0 1130.0 594.0 C1135.7 589.0 1141.7 583.5 1147.0 577.0 C1152.3 570.5 1157.8 563.7 1162.0 555.0 C1166.2 546.3 1170.1 535.0 1172.4 525.0 C1174.7 515.0 1175.4 506.3 1176.0 495.0 C1176.6 483.7 1176.6 469.9 1176.0 457.4 C1175.4 444.9 1175.2 435.9 1172.4 420.0 C1169.6 404.1 1163.4 380.3 1159.0 362.0 C1154.6 343.7 1150.0 325.3 1146.0 310.0 C1142.0 294.7 1138.8 282.3 1135.0 270.0 C1131.2 257.7 1127.2 246.5 1123.0 236.0 C1118.8 225.5 1114.5 215.8 1110.0 207.0 C1105.5 198.2 1101.2 190.7 1096.0 183.0 C1090.8 175.3 1086.7 171.3 1079.0 161.0 C1071.3 150.7 1057.8 131.2 1050.0 121.0 C1042.2 110.8 1038.0 106.6 1032.0 100.0 C1026.0 93.4 1020.2 86.6 1014.0 81.6 C1007.8 76.6 1001.3 73.0 995.0 70.0 C988.7 67.0 979.2 64.6 976.0 63.5" fill="none" stroke="#f29225" stroke-width="8" stroke-linecap="round"/>
<path d="M946.0 63.0 C940.5 65.5 921.5 73.2 913.0 78.0 C904.5 82.8 900.8 86.3 895.0 92.0 C889.2 97.7 883.7 105.2 878.0 112.0 C872.3 118.8 866.7 126.0 861.0 133.0 C855.3 140.0 849.3 146.7 844.0 154.0 C838.7 161.3 833.5 169.5 829.0 177.0 C824.5 184.5 819.0 195.3 817.0 199.0" fill="none" stroke="#f29225" stroke-width="9" stroke-linecap="round"/>
<path d="M946.0 63.0 C940.5 65.5 921.5 73.2 913.0 78.0 C904.5 82.8 900.8 86.3 895.0 92.0 C889.2 97.7 883.7 105.2 878.0 112.0 C872.3 118.8 863.8 129.5 861.0 133.0" fill="none" stroke="#f29225" stroke-width="10" stroke-linecap="round"/>
<path d="M1110.0 207.0 C1107.7 203.0 1101.2 190.7 1096.0 183.0 C1090.8 175.3 1086.7 171.3 1079.0 161.0 C1071.3 150.7 1057.8 131.2 1050.0 121.0 C1042.2 110.8 1038.0 106.6 1032.0 100.0 C1026.0 93.4 1020.2 86.6 1014.0 81.6 C1007.8 76.6 1001.3 73.0 995.0 70.0 C988.7 67.0 979.2 64.6 976.0 63.5" fill="none" stroke="#f29225" stroke-width="9" stroke-linecap="round"/>
<path d="M1050.0 121.0 C1047.0 117.5 1038.0 106.6 1032.0 100.0 C1026.0 93.4 1020.2 86.6 1014.0 81.6 C1007.8 76.6 1001.3 73.0 995.0 70.0 C988.7 67.0 979.2 64.6 976.0 63.5" fill="none" stroke="#f29225" stroke-width="10" stroke-linecap="round"/>
<g transform="translate(123.0 665.0) rotate(0.0) scale(1.00)"><path d="M0.0 -2.8 L7.3 -44.8 C7.3 -54.5 21.3 -54.5 21.3 -44.8 L21.3 -17.4 C21.3 -11.3 30.0 -11.3 30.0 -17.4 L33.7 -43.1 C33.7 -48.4 41.3 -48.4 41.3 -43.1 L43.7 -13.5 C43.7 -9.1 50.0 -9.1 50.0 -13.5 L56.3 -53.4 C56.3 -60.4 66.3 -60.4 66.3 -53.4 L67.3 -14.1 C67.3 -10.6 72.3 -10.6 72.3 -14.1 L72.3 -43.6" fill="none" stroke="#2c67a3" stroke-width="6.4" stroke-linecap="round" stroke-linejoin="round"/><path d="M0.0 -2.8 L7.3 -44.8 C7.3 -54.5 21.3 -54.5 21.3 -44.8 L21.3 -17.4 C21.3 -11.3 30.0 -11.3 30.0 -17.4 L33.7 -43.1 C33.7 -48.4 41.3 -48.4 41.3 -43.1 L43.7 -13.5 C43.7 -9.1 50.0 -9.1 50.0 -13.5 L56.3 -53.4 C56.3 -60.4 66.3 -60.4 66.3 -53.4 L67.3 -14.1 C67.3 -10.6 72.3 -10.6 72.3 -14.1 L72.3 -43.6" fill="none" stroke="#3a80c2" stroke-width="4.4" stroke-linecap="round" stroke-linejoin="round"/><path d="M0.0 -2.8 L7.3 -44.8 C7.3 -54.5 21.3 -54.5 21.3 -44.8 L21.3 -17.4 C21.3 -11.3 30.0 -11.3 30.0 -17.4 L33.7 -43.1 C33.7 -48.4 41.3 -48.4 41.3 -43.1 L43.7 -13.5 C43.7 -9.1 50.0 -9.1 50.0 -13.5 L56.3 -53.4 C56.3 -60.4 66.3 -60.4 66.3 -53.4 L67.3 -14.1 C67.3 -10.6 72.3 -10.6 72.3 -14.1 L72.3 -43.6" fill="none" stroke="#7fb3e0" stroke-width="1.2" stroke-linecap="round" stroke-linejoin="round" opacity="0.7"/></g>
<g transform="translate(296.0 670.0) rotate(0.0) scale(1.00)"><path d="M0.0 -2.8 L0.0 -52.5 C0.0 -59.5 10.0 -59.5 10.0 -52.5 L12.0 -21.0 C12.0 -15.4 20.0 -15.4 20.0 -21.0 L21.0 -52.5 C21.0 -59.5 31.0 -59.5 31.0 -52.5 L33.0 -26.0 C33.0 -19.7 42.0 -19.7 42.0 -26.0 L44.0 -71.0 C44.0 -76.6 52.0 -76.6 52.0 -71.0 L53.0 -31.0 C53.0 -26.1 60.0 -26.1 60.0 -31.0 L61.0 -61.0" fill="none" stroke="#2c67a3" stroke-width="6.4" stroke-linecap="round" stroke-linejoin="round"/><path d="M0.0 -2.8 L0.0 -52.5 C0.0 -59.5 10.0 -59.5 10.0 -52.5 L12.0 -21.0 C12.0 -15.4 20.0 -15.4 20.0 -21.0 L21.0 -52.5 C21.0 -59.5 31.0 -59.5 31.0 -52.5 L33.0 -26.0 C33.0 -19.7 42.0 -19.7 42.0 -26.0 L44.0 -71.0 C44.0 -76.6 52.0 -76.6 52.0 -71.0 L53.0 -31.0 C53.0 -26.1 60.0 -26.1 60.0 -31.0 L61.0 -61.0" fill="none" stroke="#3a80c2" stroke-width="4.4" stroke-linecap="round" stroke-linejoin="round"/><path d="M0.0 -2.8 L0.0 -52.5 C0.0 -59.5 10.0 -59.5 10.0 -52.5 L12.0 -21.0 C12.0 -15.4 20.0 -15.4 20.0 -21.0 L21.0 -52.5 C21.0 -59.5 31.0 -59.5 31.0 -52.5 L33.0 -26.0 C33.0 -19.7 42.0 -19.7 42.0 -26.0 L44.0 -71.0 C44.0 -76.6 52.0 -76.6 52.0 -71.0 L53.0 -31.0 C53.0 -26.1 60.0 -26.1 60.0 -31.0 L61.0 -61.0" fill="none" stroke="#7fb3e0" stroke-width="1.2" stroke-linecap="round" stroke-linejoin="round" opacity="0.7"/></g>
<g transform="translate(749.0 606.0) rotate(30.0) scale(1.00)"><path d="M0.0 -2.8 L7.3 -44.8 C7.3 -54.5 21.3 -54.5 21.3 -44.8 L21.3 -17.4 C21.3 -11.3 30.0 -11.3 30.0 -17.4 L33.7 -43.1 C33.7 -48.4 41.3 -48.4 41.3 -43.1 L43.7 -13.5 C43.7 -9.1 50.0 -9.1 50.0 -13.5 L56.3 -53.4 C56.3 -60.4 66.3 -60.4 66.3 -53.4 L67.3 -14.1 C67.3 -10.6 72.3 -10.6 72.3 -14.1 L72.3 -43.6" fill="none" stroke="#2c67a3" stroke-width="6.4" stroke-linecap="round" stroke-linejoin="round"/><path d="M0.0 -2.8 L7.3 -44.8 C7.3 -54.5 21.3 -54.5 21.3 -44.8 L21.3 -17.4 C21.3 -11.3 30.0 -11.3 30.0 -17.4 L33.7 -43.1 C33.7 -48.4 41.3 -48.4 41.3 -43.1 L43.7 -13.5 C43.7 -9.1 50.0 -9.1 50.0 -13.5 L56.3 -53.4 C56.3 -60.4 66.3 -60.4 66.3 -53.4 L67.3 -14.1 C67.3 -10.6 72.3 -10.6 72.3 -14.1 L72.3 -43.6" fill="none" stroke="#3a80c2" stroke-width="4.4" stroke-linecap="round" stroke-linejoin="round"/><path d="M0.0 -2.8 L7.3 -44.8 C7.3 -54.5 21.3 -54.5 21.3 -44.8 L21.3 -17.4 C21.3 -11.3 30.0 -11.3 30.0 -17.4 L33.7 -43.1 C33.7 -48.4 41.3 -48.4 41.3 -43.1 L43.7 -13.5 C43.7 -9.1 50.0 -9.1 50.0 -13.5 L56.3 -53.4 C56.3 -60.4 66.3 -60.4 66.3 -53.4 L67.3 -14.1 C67.3 -10.6 72.3 -10.6 72.3 -14.1 L72.3 -43.6" fill="none" stroke="#7fb3e0" stroke-width="1.2" stroke-linecap="round" stroke-linejoin="round" opacity="0.7"/></g>
<g transform="translate(848.7 667.4) rotate(0.0) scale(1.00)"><path d="M0.0 -2.8 L7.3 -44.8 C7.3 -54.5 21.3 -54.5 21.3 -44.8 L21.3 -17.4 C21.3 -11.3 30.0 -11.3 30.0 -17.4 L33.7 -43.1 C33.7 -48.4 41.3 -48.4 41.3 -43.1 L43.7 -13.5 C43.7 -9.1 50.0 -9.1 50.0 -13.5 L56.3 -53.4 C56.3 -60.4 66.3 -60.4 66.3 -53.4 L67.3 -14.1 C67.3 -10.6 72.3 -10.6 72.3 -14.1 L72.3 -43.6" fill="none" stroke="#2c67a3" stroke-width="6.4" stroke-linecap="round" stroke-linejoin="round"/><path d="M0.0 -2.8 L7.3 -44.8 C7.3 -54.5 21.3 -54.5 21.3 -44.8 L21.3 -17.4 C21.3 -11.3 30.0 -11.3 30.0 -17.4 L33.7 -43.1 C33.7 -48.4 41.3 -48.4 41.3 -43.1 L43.7 -13.5 C43.7 -9.1 50.0 -9.1 50.0 -13.5 L56.3 -53.4 C56.3 -60.4 66.3 -60.4 66.3 -53.4 L67.3 -14.1 C67.3 -10.6 72.3 -10.6 72.3 -14.1 L72.3 -43.6" fill="none" stroke="#3a80c2" stroke-width="4.4" stroke-linecap="round" stroke-linejoin="round"/><path d="M0.0 -2.8 L7.3 -44.8 C7.3 -54.5 21.3 -54.5 21.3 -44.8 L21.3 -17.4 C21.3 -11.3 30.0 -11.3 30.0 -17.4 L33.7 -43.1 C33.7 -48.4 41.3 -48.4 41.3 -43.1 L43.7 -13.5 C43.7 -9.1 50.0 -9.1 50.0 -13.5 L56.3 -53.4 C56.3 -60.4 66.3 -60.4 66.3 -53.4 L67.3 -14.1 C67.3 -10.6 72.3 -10.6 72.3 -14.1 L72.3 -43.6" fill="none" stroke="#7fb3e0" stroke-width="1.2" stroke-linecap="round" stroke-linejoin="round" opacity="0.7"/></g>
<g transform="translate(1019.5 668.3) rotate(0.0) scale(1.00)"><path d="M0.0 -2.8 L0.0 -52.5 C0.0 -59.5 10.0 -59.5 10.0 -52.5 L12.0 -21.0 C12.0 -15.4 20.0 -15.4 20.0 -21.0 L21.0 -52.5 C21.0 -59.5 31.0 -59.5 31.0 -52.5 L33.0 -26.0 C33.0 -19.7 42.0 -19.7 42.0 -26.0 L44.0 -71.0 C44.0 -76.6 52.0 -76.6 52.0 -71.0 L53.0 -31.0 C53.0 -26.1 60.0 -26.1 60.0 -31.0 L61.0 -61.0" fill="none" stroke="#2c67a3" stroke-width="6.4" stroke-linecap="round" stroke-linejoin="round"/><path d="M0.0 -2.8 L0.0 -52.5 C0.0 -59.5 10.0 -59.5 10.0 -52.5 L12.0 -21.0 C12.0 -15.4 20.0 -15.4 20.0 -21.0 L21.0 -52.5 C21.0 -59.5 31.0 -59.5 31.0 -52.5 L33.0 -26.0 C33.0 -19.7 42.0 -19.7 42.0 -26.0 L44.0 -71.0 C44.0 -76.6 52.0 -76.6 52.0 -71.0 L53.0 -31.0 C53.0 -26.1 60.0 -26.1 60.0 -31.0 L61.0 -61.0" fill="none" stroke="#3a80c2" stroke-width="4.4" stroke-linecap="round" stroke-linejoin="round"/><path d="M0.0 -2.8 L0.0 -52.5 C0.0 -59.5 10.0 -59.5 10.0 -52.5 L12.0 -21.0 C12.0 -15.4 20.0 -15.4 20.0 -21.0 L21.0 -52.5 C21.0 -59.5 31.0 -59.5 31.0 -52.5 L33.0 -26.0 C33.0 -19.7 42.0 -19.7 42.0 -26.0 L44.0 -71.0 C44.0 -76.6 52.0 -76.6 52.0 -71.0 L53.0 -31.0 C53.0 -26.1 60.0 -26.1 60.0 -31.0 L61.0 -61.0" fill="none" stroke="#7fb3e0" stroke-width="1.2" stroke-linecap="round" stroke-linejoin="round" opacity="0.7"/></g>
<text x="167.0" y="41.8" font-size="35.9" font-weight="bold" font-style="italic">Resting</text>
<text x="862.8" y="42.2" font-size="36.6" font-weight="bold" font-style="italic">Stimulated</text>
<text x="489.9" y="259.4" font-size="37.6">Canaliculus</text>
<text x="461.2" y="410.8" font-size="36.8">Tubulovesicles</text>
<text x="464.8" y="337.3" font-size="37.0">H</text>
<text x="494.0" y="324.5" font-size="27.0">+</text>
<text x="508.5" y="337.3" font-size="37.0">,</text>
<text x="517.3" y="337.3" font-size="37.0">K</text>
<text x="545.3" y="324.5" font-size="27.0">+</text>
<text x="559.5" y="337.3" font-size="37.0">–ATPase</text>
<text x="608.3" y="478.8" font-size="36.2">Active</text>
<text x="607.0" y="519.7" font-size="37.4">pump</text>
<text x="1042.0" y="482.0" font-size="36.2">Active</text>
<text x="1042.0" y="524.0" font-size="37.4">pump</text>
<text x="930.3" y="255.0" font-size="32.0" letter-spacing="1.2">HCl</text>
<text x="947.8" y="329.0" font-size="32.0">KCl</text>
<text x="947.5" y="442.0" font-size="32.0">KCl</text>
<text x="777.6" y="482.0" font-size="33.0">H</text>
<text x="800.8" y="491.0" font-size="27.0">3</text>
<text x="817.0" y="482.0" font-size="33.0">O</text>
<text x="845.0" y="471.5" font-size="24.0">+</text>
<text x="880.0" y="581.0" font-size="31.0">Ca</text>
<path d="M923.5 606.5 H941" stroke="#2e2e2e" stroke-width="2.4"/>
<text x="1006.0" y="583.0" font-size="33.0">cAMP</text>
<text x="674.3" y="662.0" font-size="37.5">Gastrin</text>
<text x="849.0" y="700.5" font-size="35.0">ACh</text>
<text x="976.0" y="701.0" font-size="37.5">Histamine</text>
<path d="M254.0 287.0 L489.0 248.0" stroke="#fff" stroke-opacity="0.55" stroke-width="5" fill="none"/><path d="M254.0 287.0 L489.0 248.0" stroke="#2b2b2b" stroke-width="2.2" fill="none"/>
<path d="M685.0 248.0 L884.0 276.0" stroke="#fff" stroke-opacity="0.55" stroke-width="5" fill="none"/><path d="M685.0 248.0 L884.0 276.0" stroke="#2b2b2b" stroke-width="2.2" fill="none"/>
<path d="M327.0 371.0 L464.0 325.0" stroke="#fff" stroke-opacity="0.55" stroke-width="5" fill="none"/><path d="M327.0 371.0 L464.0 325.0" stroke="#2b2b2b" stroke-width="2.2" fill="none"/>
<path d="M717.0 327.0 L847.0 349.0" stroke="#fff" stroke-opacity="0.55" stroke-width="5" fill="none"/><path d="M717.0 327.0 L847.0 349.0" stroke="#2b2b2b" stroke-width="2.2" fill="none"/>
<path d="M326.0 418.0 L460.0 398.5" stroke="#fff" stroke-opacity="0.55" stroke-width="5" fill="none"/><path d="M326.0 418.0 L460.0 398.5" stroke="#2b2b2b" stroke-width="2.2" fill="none"/>
<path d="M193.0 512.0 L460.0 398.5" stroke="#fff" stroke-opacity="0.55" stroke-width="5" fill="none"/><path d="M193.0 512.0 L460.0 398.5" stroke="#2b2b2b" stroke-width="2.2" fill="none"/>
<path d="M712.0 466.0 L853.0 369.0" stroke="#fff" stroke-opacity="0.55" stroke-width="5" fill="none"/><path d="M712.0 466.0 L853.0 369.0" stroke="#2b2b2b" stroke-width="2.2" fill="none"/>
<path d="M1056.0 362.0 L1082.0 452.0" stroke="#fff" stroke-opacity="0.55" stroke-width="5" fill="none"/><path d="M1056.0 362.0 L1082.0 452.0" stroke="#2b2b2b" stroke-width="2.2" fill="none"/>
<path d="M867 471 C888 470 903 466 903.5 446 L903.5 300 C903.5 285 912 273 924 269" fill="none" stroke="#1c1c1c" stroke-width="3"/>
<path d="M932.0 265.0 L925.1 274.6 L920.3 267.0 Z" fill="#1c1c1c"/>
<path d="M936 321 H912.5 V431.6 H936" fill="none" stroke="#1c1c1c" stroke-width="3"/>
<path d="M945.0 321.0 L934.0 325.5 L934.0 316.5 Z" fill="#1c1c1c"/>
<path d="M945.0 431.6 L934.0 436.1 L934.0 427.1 Z" fill="#1c1c1c"/>
<path d="M1001 304 C1003 290 996 280 986 272" fill="none" stroke="#1c1c1c" stroke-width="3"/>
<path d="M979.0 265.0 L990.3 268.6 L984.5 275.5 Z" fill="#1c1c1c"/>
</svg></body></html>
